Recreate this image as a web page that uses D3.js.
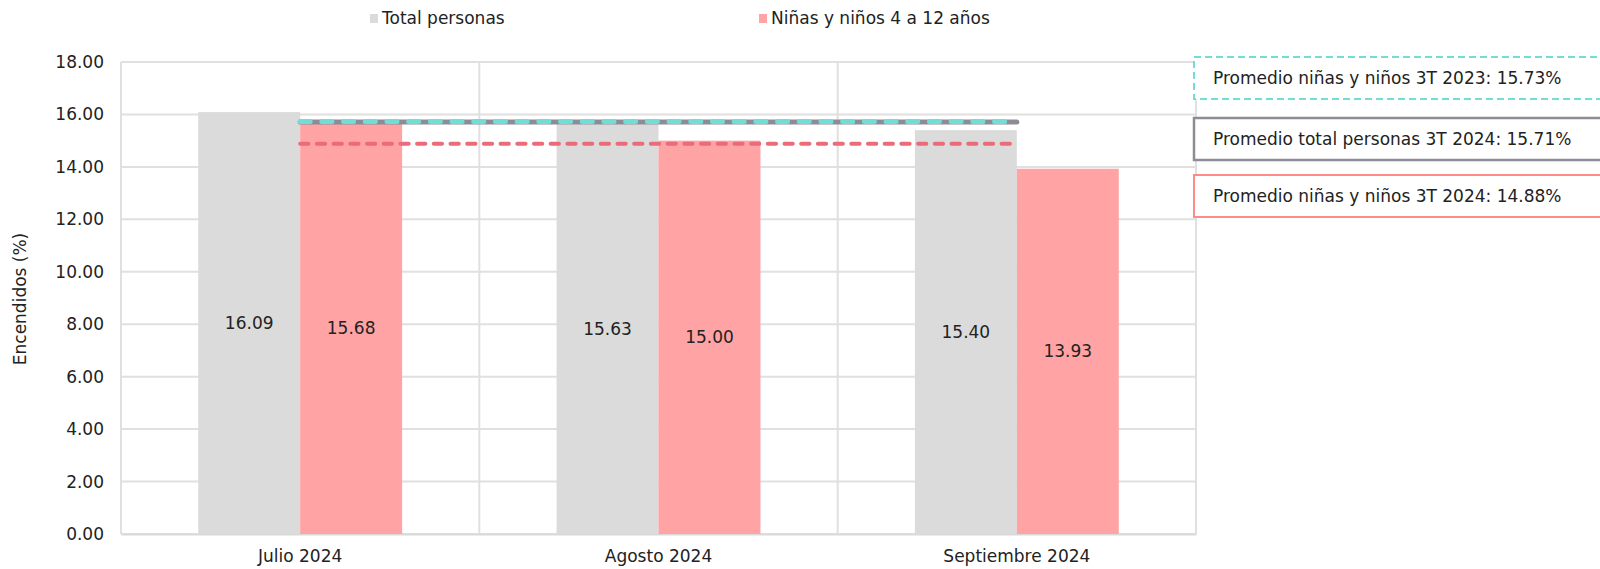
<!DOCTYPE html>
<html><head><meta charset="utf-8">
<script src="https://cdn.jsdelivr.net/npm/d3@7"></script>
<style>body{margin:0;background:#fff;}svg{display:block;}text{font-family:"DejaVu Sans",sans-serif;fill:#222;}</style>
</head><body><svg id="c" width="1600" height="569"></svg>
<script>
const categories = ["Julio 2024", "Agosto 2024", "Septiembre 2024"];
const seriesNames = ["Total personas", "Niñas y niños 4 a 12 años"];
const totalPersonas = [16.09, 15.63, 15.40];
const ninos = [15.68, 15.00, 13.93];
const yTicks = [0, 2, 4, 6, 8, 10, 12, 14, 16, 18];
const avgLines = [
  {label: "Promedio total personas 3T 2024: 15.71%", value: 15.71},
  {label: "Promedio niñas y niños 3T 2023: 15.73%", value: 15.73},
  {label: "Promedio niñas y niños 3T 2024: 14.88%", value: 14.88}
];
const boxOrder = [1, 0, 2];

const colors = {bar: ["#dbdbdb", "#ffa3a5"], lines: ["#8c8c96", "#72dcd6", "#ec6b7b"], box: ["#72dcd6", "#8c8c96", "#ff8a8a"]};
const FONT = "DejaVu Sans, sans-serif";
const FS = "17px";

const svg = d3.select("#c");
const m = {l: 121, r: 1196, t: 62, b: 534};
const x0 = d3.scaleBand().domain(categories).range([m.l, m.r]).padding(0);
const bw = x0.bandwidth();
const x1 = d3.scaleBand().domain(seriesNames).range([bw * 0.2155, bw * 0.7845]).padding(0);
const y = d3.scaleLinear().domain([0, 18]).range([m.b, m.t]);

// gridlines
svg.append("g").selectAll("line").data(yTicks).join("line")
  .attr("x1", m.l).attr("x2", m.r).attr("y1", d => y(d)).attr("y2", d => y(d))
  .attr("stroke", "#e0e0e0").attr("stroke-width", 2);
const vb = categories.map(c => x0(c)).concat([m.r]);
svg.append("g").selectAll("line").data(vb).join("line")
  .attr("x1", d => d).attr("x2", d => d).attr("y1", m.t).attr("y2", m.b)
  .attr("stroke", "#e0e0e0").attr("stroke-width", 2);

// y axis labels
const yAxis = d3.axisLeft(y).tickValues(yTicks).tickFormat(d3.format(".2f")).tickSize(0).tickPadding(17);
const ya = svg.append("g").attr("transform", `translate(${m.l},0)`).call(yAxis);
ya.select(".domain").remove();
ya.selectAll("text").style("font-size", FS).style("font-family", FONT).attr("fill", "#222");

// x axis
const xAxis = d3.axisBottom(x0).tickSize(0).tickPadding(16);
const xa = svg.append("g").attr("transform", `translate(0,${m.b})`).call(xAxis);
xa.select(".domain").attr("stroke", "#d9d9d9").attr("stroke-width", 2);
xa.selectAll("text").style("font-size", FS).style("font-family", FONT).attr("fill", "#222");

// bars
const seriesData = [totalPersonas, ninos];
seriesData.forEach((vals, si) => {
  const g = svg.append("g");
  g.selectAll("rect").data(vals).join("rect")
    .attr("x", (d, i) => x0(categories[i]) + x1(seriesNames[si]))
    .attr("width", x1.bandwidth())
    .attr("y", d => y(d)).attr("height", d => y(0) - y(d))
    .attr("fill", colors.bar[si]);
  g.selectAll("text").data(vals).join("text")
    .attr("x", (d, i) => x0(categories[i]) + x1(seriesNames[si]) + x1.bandwidth() / 2)
    .attr("y", d => (y(d) + y(0)) / 2)
    .attr("dy", "0.35em").attr("text-anchor", "middle")
    .style("font-size", FS).text(d => d.toFixed(2));
});

// average lines
const xs = x0(categories[0]) + bw / 2, xe = x0(categories[categories.length - 1]) + bw / 2;
svg.append("line").attr("x1", xs).attr("x2", xe).attr("y1", y(avgLines[0].value)).attr("y2", y(avgLines[0].value))
  .attr("stroke", colors.lines[0]).attr("stroke-width", 5).attr("stroke-linecap", "round");
svg.append("line").attr("x1", xs).attr("x2", xe - 8).attr("y1", y(avgLines[1].value)).attr("y2", y(avgLines[1].value))
  .attr("stroke", colors.lines[1]).attr("stroke-width", 5).attr("stroke-linecap", "round").attr("stroke-dasharray", "10 11.7");
svg.append("line").attr("x1", xs).attr("x2", xe).attr("y1", y(avgLines[2].value)).attr("y2", y(avgLines[2].value))
  .attr("stroke", colors.lines[2]).attr("stroke-width", 4).attr("stroke-linecap", "round").attr("stroke-dasharray", "8.3 8.4");

// y title
svg.append("text").attr("transform", "translate(20,299) rotate(-90)").attr("text-anchor", "middle").attr("dy", "0.35em")
  .style("font-size", FS).text("Encendidos (%)");

// legend
const legX = [370, 759];
seriesNames.forEach((n, i) => {
  svg.append("rect").attr("x", legX[i]).attr("y", 14).attr("width", 8).attr("height", 9).attr("fill", colors.bar[i]);
  svg.append("text").attr("x", legX[i] + 12).attr("y", 18.5).attr("dy", "0.35em").style("font-size", FS).text(n);
});

// right boxes
const boxY = [57, 118, 175];
boxOrder.forEach((li, k) => {
  const r = svg.append("rect").attr("x", 1194).attr("y", boxY[k]).attr("width", 420).attr("height", 42)
    .attr("fill", "#fff").attr("stroke", colors.box[k]).attr("stroke-width", k === 1 ? 2.5 : 2);
  if (k === 0) r.attr("stroke-dasharray", "7 4");
  svg.append("text").attr("x", 1213).attr("y", boxY[k] + 21).attr("dy", "0.35em").style("font-size", FS).text(avgLines[li].label);
});
</script></body></html>
